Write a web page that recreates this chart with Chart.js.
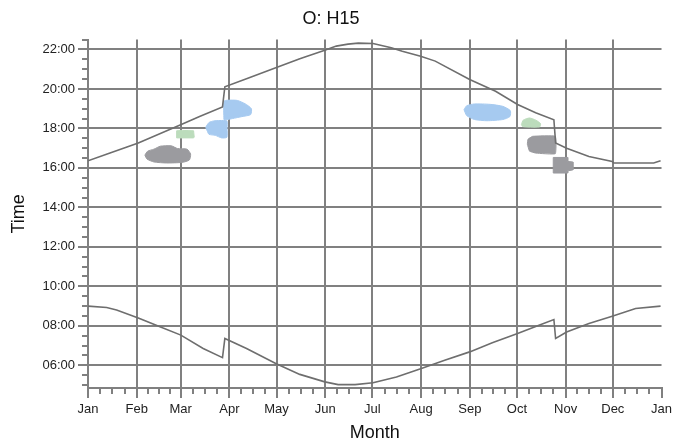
<!DOCTYPE html>
<html>
<head>
<meta charset="utf-8">
<title>O: H15</title>
<script src="https://cdn.jsdelivr.net/npm/chart.js@4.4.1/dist/chart.umd.min.js"></script>
<style>
  body { margin: 0; background: #fff; }
  #chart { display: block; }
</style>
</head>
<body>
<canvas id="chart" width="676" height="446"></canvas>
<script>
// x = day of year (0 = 1 Jan), y = clock time in hours
const monthDays = [0, 31, 59, 90, 120, 151, 181, 212, 243, 273, 304, 334, 365];
const monthLabels = ["Jan", "Feb", "Mar", "Apr", "May", "Jun", "Jul", "Aug", "Sep", "Oct", "Nov", "Dec", "Jan"];
const hourTicks = [6, 8, 10, 12, 14, 16, 18, 20, 22];

// sunset (upper curve)
const sunsetDays  = [0, 14, 32, 59, 71, 85.6, 87.1, 103, 119.5, 134.8, 150.7, 158, 165.5, 172, 181.4, 193, 200, 211.7, 221, 242.9, 259.4, 273.4, 284.9, 296.5, 297.6, 304.6, 318.8, 333.6, 334.7, 360, 364.4];
const sunsetTimes = [16.36, 16.75, 17.26, 18.19, 18.6, 19.09, 20.11, 20.58, 21.07, 21.53, 21.96, 22.17, 22.27, 22.32, 22.30, 22.09, 21.91, 21.66, 21.41, 20.48, 19.88, 19.21, 18.79, 18.44, 17.26, 17.0, 16.58, 16.33, 16.25, 16.25, 16.36];

// sunrise (lower curve)
const sunriseDays  = [0, 11.9, 18.2, 32, 45.8, 59.1, 73.3, 85.6, 87.1, 100.9, 119.5, 134.8, 150.7, 159.2, 170, 181.4, 196.3, 211.7, 227, 242.9, 257.3, 273.4, 287, 296.5, 297.6, 304.6, 318.8, 333.6, 348.5, 364.4];
const sunriseTimes = [9.0, 8.93, 8.80, 8.40, 7.95, 7.53, 6.85, 6.39, 7.36, 6.85, 6.09, 5.54, 5.16, 5.02, 5.02, 5.12, 5.41, 5.83, 6.25, 6.68, 7.14, 7.61, 8.03, 8.32, 7.36, 7.69, 8.12, 8.49, 8.88, 9.0];

// observation patches [day, time]
const grayFeb = [[36.2,16.65],[38,16.85],[42,16.95],[46,17.1],[53,17.12],[57,16.98],[63,16.95],[65.3,16.7],[64.5,16.4],[60,16.28],[50,16.25],[42,16.3],[37.5,16.45]];
const greenMar = [[56.4,17.52],[56.4,17.88],[60,17.9],[67.2,17.88],[67.6,17.55],[67,17.52]];
const blueMar = [[76,17.85],[75,18.05],[77,18.3],[80,18.38],[84,18.4],[88.4,18.38],[88.5,18.0],[88.4,17.55],[85,17.52],[81,17.65],[77,17.7]];
const blueApr = [[86.5,18.45],[86.5,19.38],[89,19.43],[95,19.42],[100,19.25],[104,19.0],[103.5,18.7],[98,18.6],[92,18.5],[88,18.44]];
const blueSep = [[239.3,18.95],[241,19.15],[246,19.24],[256,19.22],[264,19.12],[268.8,18.9],[268.5,18.6],[264,18.45],[254,18.39],[246,18.45],[241,18.65]];
const greenOct = [[275.8,18.2],[277,18.42],[281,18.53],[285,18.42],[288,18.25],[287.5,18.08],[280,18.07],[276.5,18.1]];
const grayOct = [[279.6,17.2],[280,17.45],[283,17.6],[297.4,17.6],[297.4,16.72],[285,16.75],[281,16.85]];
const grayNov = [[296.1,15.74],[296.1,16.53],[305.3,16.53],[305.3,16.33],[308.6,16.3],[308.6,15.9],[305.3,15.85],[305.3,15.74]];

const gridGray = '#808080';
const font = '"Liberation Sans", Arial, sans-serif';

function toPoints(days, times) {
    return days.map((d, i) => ({ x: d, y: times[i] }));
}

function patch(points, color, tension) {
    let pts = points.map(p => ({ x: p[0], y: p[1] }));
    pts.push(pts[0]);
    return {
        data: pts,
        borderColor: color,
        backgroundColor: color,
        borderWidth: 1,
        pointRadius: 0,
        fill: 'shape',
        tension: tension,
        order: 2
    };
}

function curve(days, times) {
    return {
        data: toPoints(days, times),
        borderColor: '#6e6e6e',
        borderWidth: 1.6,
        pointRadius: 0,
        fill: false,
        tension: 0,
        order: 0
    };
}

function hhmm(v) {
    return String(v).padStart(2, '0') + ':00';
}

// small ticks: every half hour on y, quarter months on x
const minorTicks = {
    id: 'minorTicks',
    afterDraw(chart) {
        const { ctx, chartArea } = chart;
        const x = chart.scales.x, y = chart.scales.y;
        ctx.save();
        ctx.strokeStyle = gridGray;
        ctx.lineWidth = 2;
        ctx.beginPath();
        for (let v = 5; v <= 22.5; v += 0.5) {
            if (hourTicks.includes(v)) continue;
            let py = Math.round(y.getPixelForValue(v));
            ctx.moveTo(chartArea.left - 6, py);
            ctx.lineTo(chartArea.left, py);
        }
        for (let i = 0; i < monthDays.length - 1; i++) {
            let a = monthDays[i], b = monthDays[i + 1];
            for (let q = 1; q < 4; q++) {
                let px = Math.round(x.getPixelForValue(a + (b - a) * q / 4));
                ctx.moveTo(px, chartArea.bottom);
                ctx.lineTo(px, chartArea.bottom + 6);
            }
        }
        ctx.stroke();
        ctx.restore();
    }
};

new Chart(document.getElementById('chart'), {
    type: 'line',
    data: {
        datasets: [
            curve(sunsetDays, sunsetTimes),
            curve(sunriseDays, sunriseTimes),
            patch(grayFeb, '#9b9b9f', 0.2),
            patch(greenMar, '#bcdcbc', 0),
            patch(blueMar, '#a6caf0', 0.2),
            patch(blueApr, '#a6caf0', 0.2),
            patch(blueSep, '#a6caf0', 0.2),
            patch(greenOct, '#bcdcbc', 0.2),
            patch(grayOct, '#9b9b9f', 0.1),
            patch(grayNov, '#9b9b9f', 0)
        ]
    },
    options: {
        responsive: false,
        animation: false,
        layout: { padding: { left: 0, right: 14, top: 0, bottom: 0 } },
        plugins: {
            legend: { display: false },
            tooltip: { enabled: false },
            title: {
                display: true,
                text: 'O: H15',
                color: '#111',
                font: { family: font, size: 18, weight: 'normal' },
                padding: { top: 8, bottom: 10 }
            }
        },
        scales: {
            x: {
                type: 'linear',
                min: 0,
                max: 365,
                afterBuildTicks: scale => { scale.ticks = monthDays.map(v => ({ value: v })); },
                afterFit: scale => { scale.height = 58; },
                ticks: {
                    autoSkip: false,
                    maxRotation: 0,
                    padding: 4,
                    color: '#222',
                    font: { family: font, size: 13 },
                    callback: (v, i) => monthLabels[i]
                },
                grid: {
                    color: c => (c.index === 0 || c.index === monthDays.length - 1) ? 'rgba(0,0,0,0)' : gridGray,
                    tickColor: gridGray,
                    lineWidth: 2,
                    tickLength: 10
                },
                border: { color: gridGray, width: 2 },
                title: {
                    display: true,
                    text: 'Month',
                    color: '#111',
                    font: { family: font, size: 18 },
                    padding: { top: 0, bottom: 2 }
                }
            },
            y: {
                min: 4.85,
                max: 22.5,
                afterBuildTicks: scale => { scale.ticks = hourTicks.map(v => ({ value: v })); },
                afterFit: scale => { scale.width = 88; },
                ticks: {
                    padding: 3,
                    color: '#222',
                    font: { family: font, size: 13 },
                    callback: v => hhmm(v)
                },
                grid: {
                    color: gridGray,
                    tickColor: gridGray,
                    lineWidth: 2,
                    tickLength: 10
                },
                border: { color: gridGray, width: 2 },
                title: {
                    display: true,
                    text: 'Time',
                    color: '#111',
                    font: { family: font, size: 18 },
                    padding: { top: 8, bottom: 0 }
                }
            }
        }
    },
    plugins: [minorTicks]
});
</script>
</body>
</html>
